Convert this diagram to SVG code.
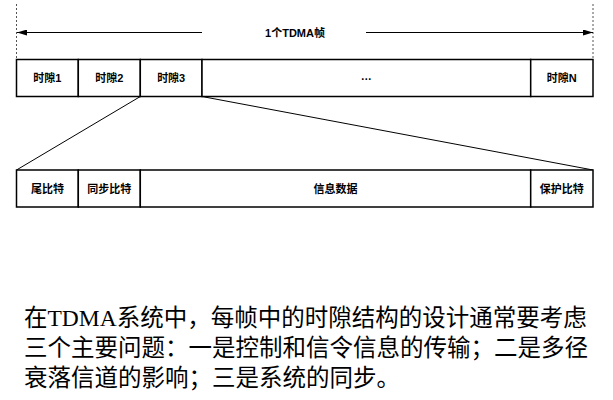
<svg xmlns="http://www.w3.org/2000/svg" width="613" height="400" viewBox="0 0 613 400">
<defs>
<style>
.box{fill:#fff;stroke:#000;stroke-width:1.5}
.lbl{font-family:"Liberation Sans","Noto Sans CJK SC",sans-serif;font-size:11px;font-weight:bold;fill:#000;text-anchor:middle}
.con{stroke:#000;stroke-width:1;fill:none}
.dash{stroke:#555;stroke-width:1;stroke-dasharray:2 2;fill:none}
.para{font-family:"Liberation Serif","Noto Sans CJK SC",serif;font-size:23.5px;fill:#000}
</style>
<marker id="ah" viewBox="0 0 10 6" refX="10" refY="3" markerWidth="11" markerHeight="6" markerUnits="userSpaceOnUse" orient="auto-start-reverse">
<path d="M0,0 L10,3 L0,6 Z" fill="#000"/>
</marker>
</defs>
<rect width="613" height="400" fill="#fff"/>
<g id="frame-bounds">
<line class="dash" x1="16.5" y1="4" x2="16.5" y2="59.5"/>
<line class="dash" x1="593" y1="4" x2="593" y2="59.5"/>
</g>
<g id="connectors">
<line class="con" x1="202" y1="32.5" x2="17" y2="32.5" marker-end="url(#ah)"/>
<line class="con" x1="366" y1="32.5" x2="593" y2="32.5" marker-end="url(#ah)"/>
<line class="con" x1="140.3" y1="96.5" x2="16.5" y2="170"/>
<line class="con" x1="202" y1="96.5" x2="593" y2="170"/>
</g>
<g id="frame-label">
<text class="lbl" x="295" y="36.5">1个TDMA帧</text>
</g>
<g id="slot1"><rect class="box" x="16.5" y="59.5" width="61.8" height="37"/><text class="lbl" x="47.4" y="82">时隙1</text></g>
<g id="slot2"><rect class="box" x="78.3" y="59.5" width="62" height="37"/><text class="lbl" x="109.3" y="82">时隙2</text></g>
<g id="slot3"><rect class="box" x="140.3" y="59.5" width="61.7" height="37"/><text class="lbl" x="171.2" y="82">时隙3</text></g>
<g id="slot-dots"><rect class="box" x="202" y="59.5" width="328.7" height="37"/><text class="lbl" x="366.3" y="79.5">…</text></g>
<g id="slotN"><rect class="box" x="530.7" y="59.5" width="62.3" height="37"/><text class="lbl" x="561.8" y="82">时隙N</text></g>
<g id="tail-bits"><rect class="box" x="16.5" y="170" width="61.8" height="37"/><text class="lbl" x="47.4" y="192.5">尾比特</text></g>
<g id="sync-bits"><rect class="box" x="78.3" y="170" width="62" height="37"/><text class="lbl" x="109.3" y="192.5">同步比特</text></g>
<g id="info-data"><rect class="box" x="140.3" y="170" width="390.4" height="37"/><text class="lbl" x="335.5" y="192.5">信息数据</text></g>
<g id="guard-bits"><rect class="box" x="530.7" y="170" width="62.3" height="37"/><text class="lbl" x="561.8" y="192.5">保护比特</text></g>
<g id="paragraph">
<text class="para" x="24" y="325.5">在TDMA系统中，每帧中的时隙结构的设计通常要考虑</text>
<text class="para" x="24" y="356">三个主要问题：一是控制和信令信息的传输；二是多径</text>
<text class="para" x="24" y="386">衰落信道的影响；三是系统的同步。</text>
</g>
</svg>
